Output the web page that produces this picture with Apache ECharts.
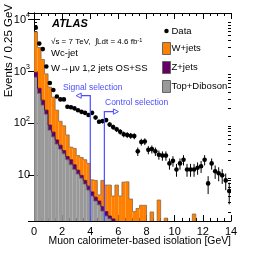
<!DOCTYPE html>
<html><head><meta charset="utf-8">
<script src="https://cdn.jsdelivr.net/npm/echarts@6/dist/echarts.min.js"></script>
<style>html,body{margin:0;padding:0;background:#fff}#c{width:266px;height:257px}</style>
</head><body><div id="c"></div>
<script>
// ---------- data ----------
const binWidth = 0.25;
const xMin = 0, xMax = 14;
const yMin = 1.32, yMax = 13400;
const dataCounts = [
7000, 3450, 2700, 1250, 600, 440, 330, 290, 290, 210,
205, 195, 180, 167, 160, 145, 160, 130, 108, 111,
116, 95, 85, 77, 69, 62, 60, 58, 57, 29,
44, 45, 31, 32, 29, 25, 24, 24, 17, 19,
13, 17, 20, 13, 13, 13, 14, 15, 20, 7,
17, 12, 11, 10, 8, 5];
const topDiboson = [
780, 380, 225, 150, 74, 55, 40, 32, 26, 20,
16, 13, 10.6, 8.8, 6.8, 5.2, 4, 3.2, 2.7, 2.05,
1.65, 1.45, 1.2, 1.0, 0.9, 0.8, 0, 0, 0, 0,
0, 0, 0, 0, 0, 0, 0, 0, 0, 0,
0, 0, 0, 0, 0, 0, 0, 0, 0, 0,
0, 0, 0, 0, 0, 0];
const zJets = [
180, 95, 55, 30, 19, 13, 8, 6, 4, 3,
4, 3, 2, 1.2, 1.2, 1, 0.8, 0.6, 0.5, 0.45,
0.35, 0.2, 0.25, 0.3, 0.2, 0.1, 0, 0, 0, 0,
0, 0, 0, 0, 0, 0, 0, 0, 0, 0,
0, 0, 0, 0, 0, 0, 0, 0, 0, 0,
0, 0, 0, 0, 0, 0];
const wJets = [
4840, 2425, 1420, 720, 407, 252, 132, 72, 60, 37,
15, 17, 11.4, 12, 12, 10.8, 3.4, 4.2, 1.0, 5.5,
4.5, 4.85, 2.55, 5.2, 2.9, 6.5, 7.5, 3.5, 2.0, 2.3,
2.65, 2.65, 0, 1.97, 0, 3.35, 0, 1.5, 0, 0,
0, 0, 0, 0, 0, 1.8, 0, 0, 0, 0,
0, 0, 0, 0, 0, 0];
const xTickInterval = 2;
const signalCut = 4, signalArrowY = 343, signalArrowTo = 3.0;
const controlCut = 5, controlArrowY = 169, controlArrowTo = 6.0;

// ---------- styles ----------
const FONT = '"Liberation Sans", Arial, Helvetica, sans-serif';
const BLUE = '#4d4dff';
const stackDefs = [
  {name: 'Top+Diboson', vals: topDiboson, color: '#999999', line: '#666666'},
  {name: 'Z+jets', vals: zJets, color: '#660066', line: '#440044'},
  {name: 'W+jets', vals: wJets, color: '#ff8000', line: '#8a6a4a'}
];

// ---------- build stacked items ----------
let cum = dataCounts.map(() => 0);
const stackSeries = stackDefs.map(s => {
  const items = s.vals.map((v, i) => {
    const base = cum[i];
    return [i * binWidth, (i + 1) * binWidth, base, base + v, 0];
  });
  items.forEach((it, i) => { it[4] = i > 0 ? items[i - 1][3] : it[2]; });
  cum = cum.map((c, i) => c + s.vals[i]);
  return {
    name: s.name, type: 'custom', clip: true, z: 2,
    itemStyle: {color: s.color, borderColor: s.line, borderWidth: 1},
    encode: {x: [0, 1], y: [2, 3]},
    data: items,
    renderItem: (params, api) => {
      const x0 = api.value(0), x1 = api.value(1);
      const b = Math.max(api.value(2), yMin * 0.5), t = api.value(3), pt = Math.max(api.value(4), yMin * 0.5);
      const children = [];
      if (t > b) {
        const p0 = api.coord([x0, b]), p1 = api.coord([x1, t]);
        children.push({type: 'rect', shape: {x: p0[0], y: p1[1], width: p1[0] - p0[0], height: p0[1] - p1[1]},
          style: {fill: s.color}});
      }
      const tt = Math.max(t, yMin * 0.5);
      const a = api.coord([x0, pt]), c = api.coord([x0, tt]), d = api.coord([x1, tt]);
      children.push({type: 'polyline', shape: {points: [a, c, d]}, style: {stroke: s.line, lineWidth: 0.8, fill: null}, z2: 5});
      return {type: 'group', children};
    }
  };
});

const pointItems = dataCounts.map((v, i) => [(i + 0.5) * binWidth, v, Math.sqrt(v)]);

const chart = echarts.init(document.getElementById('c'), null, {renderer: 'canvas'});
const yLabel = v => {
  const l = Math.log10(v), e = Math.round(l);
  if (Math.abs(l - e) > 1e-6) return '';
  return e === 1 ? '{b|10}' : '{b|10}{s|' + e + '}';
};
const option = {
  animation: false,
  grid: {left: 34, right: 35, top: 13, bottom: 36, outerBoundsMode: 'none', containLabel: false},
  xAxis: [{
    type: 'value', min: xMin, max: xMax, interval: xTickInterval,
    axisLine: {lineStyle: {color: '#000', width: 1}},
    axisTick: {inside: true, length: 6, lineStyle: {color: '#000'}},
    minorTick: {show: true, splitNumber: 4, length: 3, lineStyle: {color: '#000'}},
    axisLabel: {fontFamily: FONT, fontSize: 11, color: '#000', margin: 5},
    splitLine: {show: false}
  }, {
    type: 'value', min: xMin, max: xMax, interval: xTickInterval, position: 'top',
    axisLine: {lineStyle: {color: '#000', width: 1}},
    axisTick: {inside: true, length: 6, lineStyle: {color: '#000'}},
    minorTick: {show: true, splitNumber: 4, length: 3, lineStyle: {color: '#000'}},
    axisLabel: {show: false}, splitLine: {show: false}
  }],
  yAxis: [{
    type: 'log', logBase: 10, min: yMin, max: yMax,
    axisLine: {lineStyle: {color: '#000', width: 1}},
    axisTick: {inside: true, length: 6, lineStyle: {color: '#000'}},
    axisLabel: {showMinLabel: false, showMaxLabel: false, margin: 4, formatter: yLabel,
      rich: {b: {fontFamily: FONT, fontSize: 11, color: '#000'},
             s: {fontFamily: FONT, fontSize: 7, color: '#000', verticalAlign: 'top', lineHeight: 16}}},
    splitLine: {show: false}
  }, {
    type: 'log', logBase: 10, min: yMin, max: yMax, position: 'right',
    axisLine: {lineStyle: {color: '#000', width: 1}},
    axisTick: {inside: true, length: 6, lineStyle: {color: '#000'}},
    axisLabel: {show: false}, splitLine: {show: false}
  }],
  legend: {
    orient: 'vertical', left: 157, top: 21, itemWidth: 8, itemHeight: 12, itemGap: 6,
    textStyle: {fontFamily: FONT, fontSize: 9.5, color: '#000', padding: [0, 0, 0, -4]},
    data: [
      {name: 'Data', icon: 'path://M0,0M9,0M0,9M9,9M4.5,2A2.5,2.5,0,1,1,4.5,7A2.5,2.5,0,1,1,4.5,2Z', itemStyle: {color: '#000', borderWidth: 0}},
      {name: 'W+jets', icon: 'rect', itemStyle: {color: '#ff8000', borderColor: '#666', borderWidth: 1}},
      {name: 'Z+jets', icon: 'rect', itemStyle: {color: '#660066', borderColor: '#666', borderWidth: 1}},
      {name: 'Top+Diboson', icon: 'rect', itemStyle: {color: '#999999', borderColor: '#666', borderWidth: 1}}
    ]
  },
  series: [
    ...stackSeries,
    {
      name: 'Data', type: 'custom', clip: true, z: 5,
      itemStyle: {color: '#000'},
      encode: {x: 0, y: 1},
      data: pointItems,
      renderItem: (params, api) => {
        const x = api.value(0), y = api.value(1), e = api.value(2);
        const p = api.coord([x, y]);
        const hi = api.coord([x, y + e]), lo = api.coord([x, Math.max(y - e, yMin * 0.5)]);
        return {type: 'group', children: [
          {type: 'line', shape: {x1: p[0], y1: hi[1], x2: p[0], y2: lo[1]}, style: {stroke: '#000', lineWidth: 1}},
          {type: 'circle', shape: {cx: p[0], cy: p[1], r: 2.3}, style: {fill: '#000'}}
        ]};
      }
    },
    {
      name: 'cuts', type: 'custom', clip: false, z: 6, silent: true,
      encode: {x: 0, y: 1},
      data: [[signalCut, signalArrowY, signalArrowTo], [controlCut, controlArrowY, controlArrowTo]],
      renderItem: (params, api) => {
        const x = api.value(0), y = api.value(1), to = api.value(2);
        const base = api.coord([x, yMin]), top = api.coord([x, y]), end = api.coord([to, y]);
        const dir = end[0] < top[0] ? -1 : 1;
        const headLen = 5, headH = 2.6;
        const hb = end[0] - dir * headLen;
        return {type: 'group', children: [
          {type: 'polyline', shape: {points: [base, top, [hb, top[1]]]}, style: {stroke: BLUE, lineWidth: 1.2, fill: null}},
          {type: 'polygon', shape: {points: [[hb, top[1] - headH], [end[0], top[1]], [hb, top[1] + headH]]}, style: {stroke: BLUE, lineWidth: 1, fill: '#fff'}}
        ]};
      }
    }
  ],
  graphic: [
    {type: 'text', x: 231, y: 241, style: {text: 'Muon calorimeter-based isolation [GeV]', font: '10.4px ' + FONT, fill: '#000', align: 'right', verticalAlign: 'middle'}},
    {type: 'text', x: 9, y: 4, rotation: Math.PI / 2, style: {text: 'Events / 0.25 GeV', font: '11.5px ' + FONT, fill: '#000', align: 'right', verticalAlign: 'middle'}},
    {type: 'text', left: 52, top: 18, style: {text: 'ATLAS', font: 'italic bold 11px ' + FONT, fill: '#000'}},
    {type: 'text', left: 51, top: 37, style: {text: '{a|√s = 7 TeV,  ∫Ldt = 4.6 fb}{s|-1}', rich: {a: {font: '8px ' + FONT, fill: '#000'}, s: {font: '5.5px ' + FONT, fill: '#000', verticalAlign: 'top', lineHeight: 10}}}},
    {type: 'text', left: 51, top: 48, style: {text: 'Wc-jet', font: '9.5px ' + FONT, fill: '#000'}},
    {type: 'text', left: 51, top: 63, style: {text: 'W\u2192\u03bc\u03bd 1,2 jets OS+SS', font: '9.5px ' + FONT, fill: '#000'}},
    {type: 'text', left: 63, top: 83, style: {text: 'Signal selection', font: '8.5px ' + FONT, fill: BLUE}},
    {type: 'text', left: 105, top: 98, style: {text: 'Control selection', font: '8.5px ' + FONT, fill: BLUE}}
  ]
};
chart.setOption(option);

// log-axis minor ticks (2..9 per decade), mirrored left/right
const xl = chart.convertToPixel({xAxisIndex: 0}, xMin), xr = chart.convertToPixel({xAxisIndex: 0}, xMax);
const minor = [];
for (let d = 1; d <= 10000; d *= 10) {
  for (let k = 2; k <= 9; k++) {
    const v = k * d;
    if (v <= yMin || v >= yMax) continue;
    const py = Math.round(chart.convertToPixel({yAxisIndex: 0}, v)) + 0.5;
    minor.push({type: 'line', silent: true, shape: {x1: xl, y1: py, x2: xl + 3, y2: py}, style: {stroke: '#000', lineWidth: 1}});
    minor.push({type: 'line', silent: true, shape: {x1: xr - 3, y1: py, x2: xr, y2: py}, style: {stroke: '#000', lineWidth: 1}});
  }
}
chart.setOption({graphic: option.graphic.concat(minor)});
</script>
</body></html>
